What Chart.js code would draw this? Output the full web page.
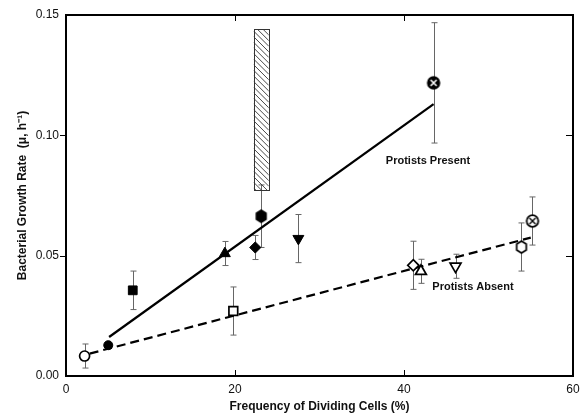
<!DOCTYPE html>
<html><head><meta charset="utf-8">
<script src="https://cdn.jsdelivr.net/npm/chart.js@4"></script>
<style>html,body{margin:0;padding:0;background:#fff;}canvas{display:block}</style>
</head><body>
<canvas id="c" width="581" height="417"></canvas>
<script>
// ---- data ----
const xTicks = [0, 20, 40, 60];
const yTicks = [0, 0.05, 0.10, 0.15];

// Protists present (filled symbols)
const presentX   = [5.0, 7.9, 18.8, 22.4, 23.1, 27.5, 43.5];
const presentY   = [0.0128, 0.0356, 0.0509, 0.0534, 0.0664, 0.0571, 0.1218];
const presentErr = [0, 0.008, 0.005, 0.005, 0.013, 0.010, 0.025];
const presentSym = ['circle', 'square', 'triangle', 'diamond', 'hexagon', 'downTriangle', 'xcircle'];

// Protists absent (open symbols)
const absentX   = [2.2, 19.8, 41.1, 42.0, 46.1, 53.9, 55.2];
const absentY   = [0.0083, 0.0270, 0.0460, 0.0435, 0.0456, 0.0536, 0.0644];
const absentErr = [0.005, 0.010, 0.010, 0.005, 0.005, 0.010, 0.010];
const absentSym = ['circle', 'square', 'diamond', 'triangle', 'downTriangle', 'hexagon', 'xcircle'];

// regression lines (end points)
const presentLineX = [5.1, 43.5];
const presentLineY = [0.0162, 0.1130];
const absentLineX  = [2.8, 55.0];
const absentLineY  = [0.0093, 0.0575];

// hatched range box
const boxX = [22.2, 24.0];
const boxY = [0.077, 0.144];

// text labels
const labelTexts = ['Protists Present', 'Protists Absent'];
const labelX = [37.85, 43.35];
const labelY = [0.0893, 0.0369];

// ---- symbol helpers ----
function makeCanvas(size, draw) {
  const c = document.createElement('canvas');
  c.width = size; c.height = size;
  const g = c.getContext('2d');
  draw(g, size / 2);
  return c;
}
function hexImg(filled) {
  return makeCanvas(16, (g, m) => {
    const r = 5.8;
    g.beginPath();
    for (let i = 0; i < 6; i++) {
      const a = Math.PI / 2 + i * Math.PI / 3;
      const px = m + r * Math.cos(a) * 0.95, py = m + r * Math.sin(a) * 1.05;
      if (i === 0) g.moveTo(px, py); else g.lineTo(px, py);
    }
    g.closePath();
    g.fillStyle = filled ? '#000' : '#fff';
    g.fill();
    g.lineWidth = 1.7; g.strokeStyle = '#000'; g.stroke();
  });
}
function xcircleImg(filled) {
  return makeCanvas(16, (g, m) => {
    const r = 5.8;
    g.beginPath(); g.arc(m, m, r, 0, Math.PI * 2);
    g.fillStyle = filled ? '#000' : '#fff'; g.fill();
    g.lineWidth = 1.8; g.strokeStyle = '#000'; g.stroke();
    const d = 3.0;
    g.beginPath();
    g.moveTo(m - d, m - d); g.lineTo(m + d, m + d);
    g.moveTo(m + d, m - d); g.lineTo(m - d, m + d);
    g.strokeStyle = filled ? '#fff' : '#000'; g.lineWidth = filled ? 1.6 : 1.4; g.stroke();
  });
}
function symStyle(sym, filled) {
  switch (sym) {
    case 'circle': return {style: 'circle', r: filled ? 4.5 : 5, rot: 0};
    case 'square': return {style: 'rect', r: 6.2, rot: 0};
    case 'triangle': return {style: 'triangle', r: 6.3, rot: 0};
    case 'downTriangle': return {style: 'triangle', r: 6.3, rot: 180};
    case 'diamond': return {style: 'rectRot', r: 5.6, rot: 0};
    case 'hexagon': return {style: hexImg(filled), r: 6, rot: 0};
    case 'xcircle': return {style: xcircleImg(filled), r: 6, rot: 0};
  }
}
function pointsOf(xs, ys) { return xs.map((x, i) => ({x: x, y: ys[i]})); }

const presentStyles = presentSym.map(s => symStyle(s, true));
const absentStyles = absentSym.map(s => symStyle(s, false));

// ---- plugins ----
const errorBars = {
  id: 'errorBars',
  beforeDatasetsDraw(chart) {
    const {ctx, scales: {x, y}} = chart;
    ctx.save();
    ctx.strokeStyle = '#666';
    ctx.lineWidth = 1;
    const groups = [[presentX, presentY, presentErr], [absentX, absentY, absentErr]];
    groups.forEach(([xs, ys, es]) => {
      xs.forEach((xv, i) => {
        if (!es[i]) return;
        const px = Math.round(x.getPixelForValue(xv)) + 0.5;
        const top = y.getPixelForValue(ys[i] + es[i]);
        const bot = y.getPixelForValue(ys[i] - es[i]);
        ctx.beginPath();
        ctx.moveTo(px, top); ctx.lineTo(px, bot);
        ctx.moveTo(px - 3, top); ctx.lineTo(px + 3, top);
        ctx.moveTo(px - 3, bot); ctx.lineTo(px + 3, bot);
        ctx.stroke();
      });
    });
    // hatched box
    const bx0 = x.getPixelForValue(boxX[0]), bx1 = x.getPixelForValue(boxX[1]);
    const by0 = y.getPixelForValue(boxY[1]), by1 = y.getPixelForValue(boxY[0]);
    ctx.save();
    ctx.beginPath(); ctx.rect(bx0, by0, bx1 - bx0, by1 - by0); ctx.clip();
    ctx.strokeStyle = '#333'; ctx.lineWidth = 0.9;
    ctx.beginPath();
    const w = bx1 - bx0;
    for (let yy = by0 - w; yy < by1 + w; yy += 5.6) {
      ctx.moveTo(bx0, yy); ctx.lineTo(bx1, yy + w);
    }
    ctx.stroke();
    ctx.restore();
    ctx.strokeStyle = '#333'; ctx.lineWidth = 1;
    ctx.strokeRect(Math.round(bx0) + 0.5, Math.round(by0) + 0.5, Math.round(bx1 - bx0), Math.round(by1 - by0));
    ctx.restore();
  },
  afterDraw(chart) {
    const {ctx, chartArea: a, scales: {x, y}} = chart;
    ctx.save();
    ctx.strokeStyle = '#000';
    ctx.lineWidth = 2;
    ctx.strokeRect(a.left, a.top, a.right - a.left, a.bottom - a.top);
    ctx.lineWidth = 1;
    ctx.beginPath();
    yTicks.forEach(v => {
      const py = Math.round(y.getPixelForValue(v)) + 0.5;
      if (v > 0 && v < 0.15) {
        ctx.moveTo(a.left - 6, py); ctx.lineTo(a.left, py);
        ctx.moveTo(a.right - 7, py); ctx.lineTo(a.right, py);
      }
    });
    xTicks.forEach(v => {
      const px = Math.round(x.getPixelForValue(v)) + 0.5;
      if (v > 0 && v < 60) {
        ctx.moveTo(px, a.bottom); ctx.lineTo(px, a.bottom - 6);
        ctx.moveTo(px, a.top); ctx.lineTo(px, a.top + 6);
      }
    });
    ctx.stroke();
    ctx.fillStyle = '#111';
    ctx.font = 'bold 11px "Liberation Sans", Arial, sans-serif';
    ctx.textBaseline = 'middle';
    ctx.textAlign = 'left';
    labelTexts.forEach((t, i) => {
      ctx.fillText(t, x.getPixelForValue(labelX[i]), y.getPixelForValue(labelY[i]));
    });
    ctx.restore();
  }
};

const FONT = '"Liberation Sans", Arial, sans-serif';

new Chart(document.getElementById('c'), {
  type: 'scatter',
  data: {
    datasets: [
      {
        label: 'Protists Present',
        data: pointsOf(presentX, presentY),
        pointStyle: presentStyles.map(s => s.style),
        pointRadius: presentStyles.map(s => s.r),
        pointRotation: presentStyles.map(s => s.rot),
        backgroundColor: '#000',
        borderColor: '#000',
        borderWidth: 1,
        showLine: false
      },
      {
        label: 'Protists Absent',
        data: pointsOf(absentX, absentY),
        pointStyle: absentStyles.map(s => s.style),
        pointRadius: absentStyles.map(s => s.r),
        pointRotation: absentStyles.map(s => s.rot),
        backgroundColor: '#fff',
        borderColor: '#000',
        borderWidth: 1.7,
        showLine: false
      },
      {
        label: 'Present fit',
        data: pointsOf(presentLineX, presentLineY),
        showLine: true,
        pointRadius: 0,
        borderColor: '#000',
        borderWidth: 2.2
      },
      {
        label: 'Absent fit',
        data: pointsOf(absentLineX, absentLineY),
        showLine: true,
        pointRadius: 0,
        borderColor: '#000',
        borderWidth: 2.2,
        borderDash: [9, 5]
      }
    ]
  },
  options: {
    responsive: false,
    animation: false,
    events: [],
    layout: {padding: {top: 15, right: 7, left: 0, bottom: 0}},
    plugins: {legend: {display: false}, tooltip: {enabled: false}},
    scales: {
      x: {
        type: 'linear', min: 0, max: 60,
        afterBuildTicks: s => { s.ticks = xTicks.map(v => ({value: v})); },
        afterFit: s => { s.height = 41; s.paddingRight = 0; s.paddingLeft = 0; },
        grid: {display: false, drawTicks: false},
        border: {display: false},
        ticks: {padding: 6, color: '#111', font: {family: FONT, size: 12}, maxRotation: 0, callback: v => String(v)},
        title: {display: true, text: 'Frequency of Dividing Cells (%)', color: '#111',
                font: {family: FONT, size: 12, weight: 'bold'}, padding: {top: 0, bottom: 3}}
      },
      y: {
        type: 'linear', min: 0, max: 0.15,
        afterBuildTicks: s => { s.ticks = yTicks.map(v => ({value: v})); },
        afterFit: s => { s.width = 66; s.paddingTop = 0; s.paddingBottom = 0; },
        grid: {display: false, drawTicks: false},
        border: {display: false},
        ticks: {padding: 7, color: '#111', font: {family: FONT, size: 12}, callback: v => v.toFixed(2)},
        title: {display: true, text: 'Bacterial Growth Rate  (\u03bc, h\u207b\u00b9)', color: '#111',
                font: {family: FONT, size: 12, weight: 'bold'}, padding: {top: 15, bottom: 0}}
      }
    }
  },
  plugins: [errorBars]
});
</script>
</body></html>
